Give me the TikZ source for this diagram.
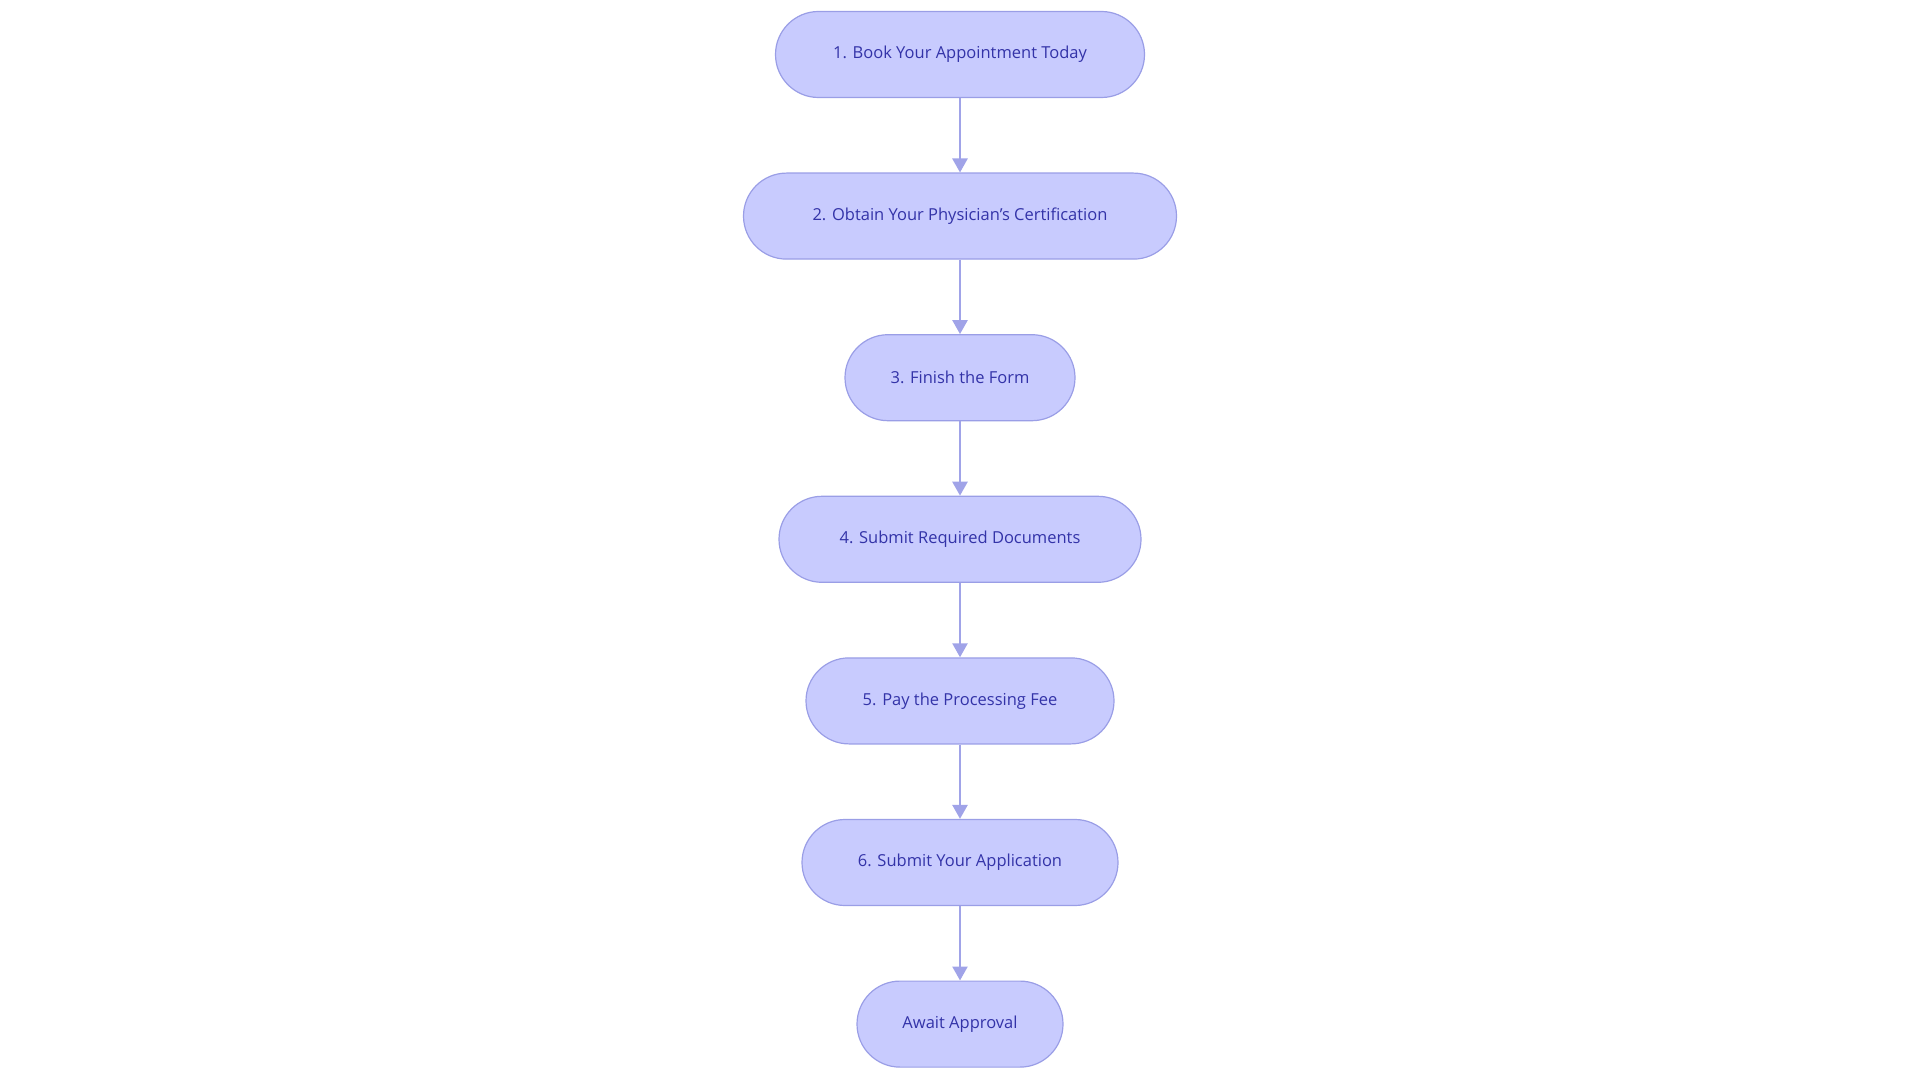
\documentclass[tikz,border=0pt]{standalone}
\usepackage{fontspec}
\setmainfont{Open Sans}
\usetikzlibrary{arrows.meta}
\definecolor{nfill}{HTML}{C8CBFE}
\definecolor{nline}{HTML}{9A9EE6}
\definecolor{ntext}{HTML}{3333A8}
\definecolor{aline}{HTML}{A0A3E8}
\begin{document}
\begin{tikzpicture}[x=1pt,y=-1pt,
  stepbox/.style={rounded corners=43pt,draw=nline,line width=1.2pt,fill=nfill,text=ntext,
    minimum height=86pt,inner sep=0pt,font=\fontsize{16.5pt}{20pt}\selectfont},
  conn/.style={draw=aline,line width=2.5pt,-{Triangle[length=14pt,width=15pt]}}]
\useasboundingbox (0,0) rectangle (1920,1083);
\node[stepbox,minimum width=369pt] (n1) at (960,54.5) {1. Book Your Appointment Today};
\node[stepbox,minimum width=433pt] (n2) at (960,216.1) {2. Obtain Your Physician's Certification};
\node[stepbox,minimum width=230pt] (n3) at (960,377.7) {3. Finish the Form};
\node[stepbox,minimum width=362pt] (n4) at (960,539.3) {4. Submit Required Documents};
\node[stepbox,minimum width=308pt] (n5) at (960,700.9) {5. Pay the Processing Fee};
\node[stepbox,minimum width=316pt] (n6) at (960,862.5) {6. Submit Your Application};
\node[stepbox,minimum width=206pt] (n7) at (960,1024.1) {Await Approval};
\foreach \a/\b in {n1/n2,n2/n3,n3/n4,n4/n5,n5/n6,n6/n7}
  \draw[conn] (\a) -- (\b);
\end{tikzpicture}
\end{document}
